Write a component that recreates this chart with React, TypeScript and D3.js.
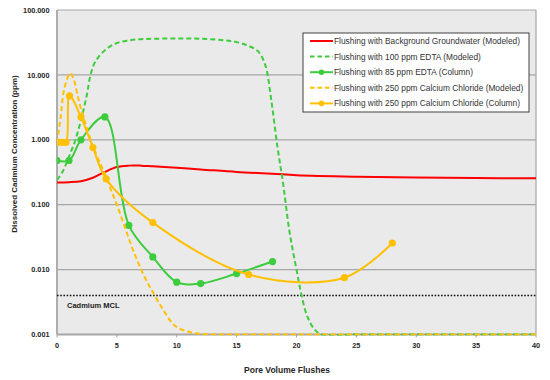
import React from "react";
import * as d3 from "d3";

const W = 550;
const H = 380;

// Background groundwater (modeled)
const redX = [0, 1, 2, 3, 4, 5, 6, 7, 8, 10, 12, 15, 18, 20, 25, 30, 35, 40];
const redY = [0.22, 0.222, 0.23, 0.26, 0.32, 0.38, 0.4, 0.4, 0.39, 0.37, 0.35, 0.32, 0.3, 0.285, 0.27, 0.262, 0.258, 0.255];

// 100 ppm EDTA (modeled)
const edtaModX = [0, 0.5, 1, 1.5, 2, 2.5, 2.8, 3.2, 4, 5, 6, 7, 8, 10, 12, 14, 15, 16, 16.8, 17.4, 17.9, 18.4, 18.9, 19.4, 20, 20.4, 20.9, 21.5, 22.1, 25, 30, 35, 40];
const edtaModY = [0.24, 0.33, 0.55, 0.95, 2, 5, 10, 16, 24, 31, 34, 35.5, 36, 36.5, 36, 34, 32, 28, 23, 14, 4, 0.8, 0.2, 0.04, 0.01, 0.0042, 0.0019, 0.0012, 0.001, 0.001, 0.001, 0.001, 0.001];

// 85 ppm EDTA (column)
const edtaColX = [0, 1, 2, 4, 6, 8, 10, 12, 15, 18];
const edtaColY = [0.48, 0.48, 1.0, 2.25, 0.048, 0.0157, 0.0064, 0.0061, 0.0087, 0.0133];

// 250 ppm Calcium Chloride (modeled)
const caModX = [0, 0.3, 0.6, 1.1, 1.4, 1.7, 2, 2.5, 3, 3.5, 4, 4.5, 5, 5.5, 6, 6.5, 7, 7.5, 8, 8.5, 9, 9.5, 10, 11, 12, 14, 20, 30, 40];
const caModY = [0.9, 2.2, 6, 10.6, 8.5, 5, 3, 1.5, 0.8, 0.48, 0.3, 0.17, 0.1, 0.055, 0.03, 0.017, 0.0103, 0.0066, 0.0045, 0.0031, 0.0022, 0.0016, 0.0013, 0.0011, 0.00102, 0.001, 0.001, 0.001, 0.001];

// 250 ppm Calcium Chloride (column)
const caColX = [0, 0.4, 0.75, 1.05, 2, 3, 4.1, 8, 16, 24, 28];
const caColY = [0.91, 0.91, 0.91, 4.75, 2.24, 0.76, 0.25, 0.053, 0.0084, 0.0075, 0.0257];

const mclValue = 0.004;

const xTicks = [0, 5, 10, 15, 20, 25, 30, 35, 40];
const yTicks = [0.001, 0.01, 0.1, 1, 10, 100];
const yTickLabels = ["0.001", "0.010", "0.100", "1.000", "10.000", "100.000"];

const legendLabels = [
  "Flushing with Background Groundwater (Modeled)",
  "Flushing with 100 ppm EDTA (Modeled)",
  "Flushing with 85 ppm EDTA (Column)",
  "Flushing with 250 ppm Calcium Chloride (Modeled)",
  "Flushing with 250 ppm Calcium Chloride (Column)",
];

const RED = "#ff0000";
const GREEN = "#3ccc3c";
const GOLD = "#ffc000";

export default function App() {
  const left = 57;
  const right = 536;
  const top = 10;
  const bottom = 334.5;

  const x = d3.scaleLinear().domain([0, 40]).range([left, right]);
  const y = d3.scaleLog().domain([0.001, 100]).range([bottom, top]);

  const mk = (xs: number[], ys: number[]) => xs.map((v, i) => [v, ys[i]] as [number, number]);
  const line = d3
    .line<[number, number]>()
    .x((d) => x(d[0]))
    .y((d) => y(d[1]))
    .curve(d3.curveCatmullRom.alpha(0.5));

  const series = [
    { data: mk(redX, redY), color: RED, dash: undefined as string | undefined, markers: false },
    { data: mk(edtaModX, edtaModY), color: GREEN, dash: "5,3", markers: false },
    { data: mk(edtaColX, edtaColY), color: GREEN, dash: undefined, markers: true },
    { data: mk(caModX, caModY), color: GOLD, dash: "5,3", markers: false },
    { data: mk(caColX, caColY), color: GOLD, dash: undefined, markers: true },
  ];

  const font = "'Liberation Sans', Arial, sans-serif";
  const axisColor = "#a6a6a6";

  const legX = 303;
  const legY = 33;
  const legW = 226;
  const legH = 79;

  return (
    <svg
      width={W}
      height={H}
      style={{ position: "absolute", left: 0, top: 0, background: "#fff" }}
      fontFamily={font}
    >
      <defs>
        <clipPath id="plotclip">
          <rect x={left} y={top - 2} width={right - left} height={bottom - top + 3} />
        </clipPath>
      </defs>
      <rect x={left} y={top} width={right - left} height={bottom - top} fill="#eaeaea" />
      {yTicks.map((t) => (
        <line key={t} x1={left} x2={right} y1={y(t)} y2={y(t)} stroke={axisColor} strokeWidth={1.2} />
      ))}
      <line x1={right} x2={right} y1={top} y2={bottom} stroke={axisColor} strokeWidth={1.2} />
      <line x1={left} x2={left} y1={top} y2={bottom} stroke={axisColor} strokeWidth={1.8} />
      <line x1={left} x2={right} y1={bottom} y2={bottom} stroke={axisColor} strokeWidth={1.8} />
      {xTicks.map((t) => (
        <line key={t} x1={x(t)} x2={x(t)} y1={bottom} y2={bottom + 3} stroke={axisColor} strokeWidth={1} />
      ))}
      {xTicks.map((t) => (
        <text key={t} x={x(t)} y={348} fontSize={7.3} fontWeight="bold" textAnchor="middle" fill="#262626">
          {t}
        </text>
      ))}
      {yTicks.map((t, i) => (
        <text key={t} x={49.5} y={y(t) + 2.6} fontSize={7.3} fontWeight="bold" textAnchor="end" fill="#262626">
          {yTickLabels[i]}
        </text>
      ))}
      <text
        transform={`translate(16.5,154) rotate(-90)`}
        fontSize={8}
        fontWeight="bold"
        textAnchor="middle"
        fill="#262626"
      >
        Dissolved Cadmium Concentration (ppm)
      </text>
      <text x={287} y={373} fontSize={8.5} fontWeight="bold" textAnchor="middle" fill="#262626">
        Pore Volume Flushes
      </text>

      {/* MCL */}
      <line
        x1={left}
        x2={right}
        y1={y(mclValue)}
        y2={y(mclValue)}
        stroke="#111"
        strokeWidth={1.6}
        strokeDasharray="1.6,1.6"
      />
      <text x={67} y={307.5} fontSize={7.5} fontWeight="bold" fill="#222">
        Cadmium MCL
      </text>

      <g clipPath="url(#plotclip)">
        {series.map((s, i) => (
          <g key={i}>
            <path
              d={line(s.data) || ""}
              fill="none"
              stroke={s.color}
              strokeWidth={2}
              strokeDasharray={s.dash}
            />
            {s.markers &&
              s.data.map((d, j) => (
                <circle key={j} cx={x(d[0])} cy={y(d[1])} r={3.6} fill={s.color} />
              ))}
          </g>
        ))}
      </g>

      {/* Legend */}
      <rect x={legX} y={legY} width={legW} height={legH} fill="#fff" stroke="#404040" strokeWidth={1} />
      {legendLabels.map((lab, i) => {
        const s = series[i];
        const cy = legY + 8 + i * 15.6;
        return (
          <g key={lab}>
            <line x1={310} x2={333} y1={cy} y2={cy} stroke={s.color} strokeWidth={2} strokeDasharray={s.dash ? "4.5,3" : undefined} />
            {s.markers && <circle cx={321.5} cy={cy} r={2.8} fill={s.color} />}
            <text x={334} y={cy + 2.9} fontSize={8.35} fill="#333">
              {lab}
            </text>
          </g>
        );
      })}
    </svg>
  );
}
